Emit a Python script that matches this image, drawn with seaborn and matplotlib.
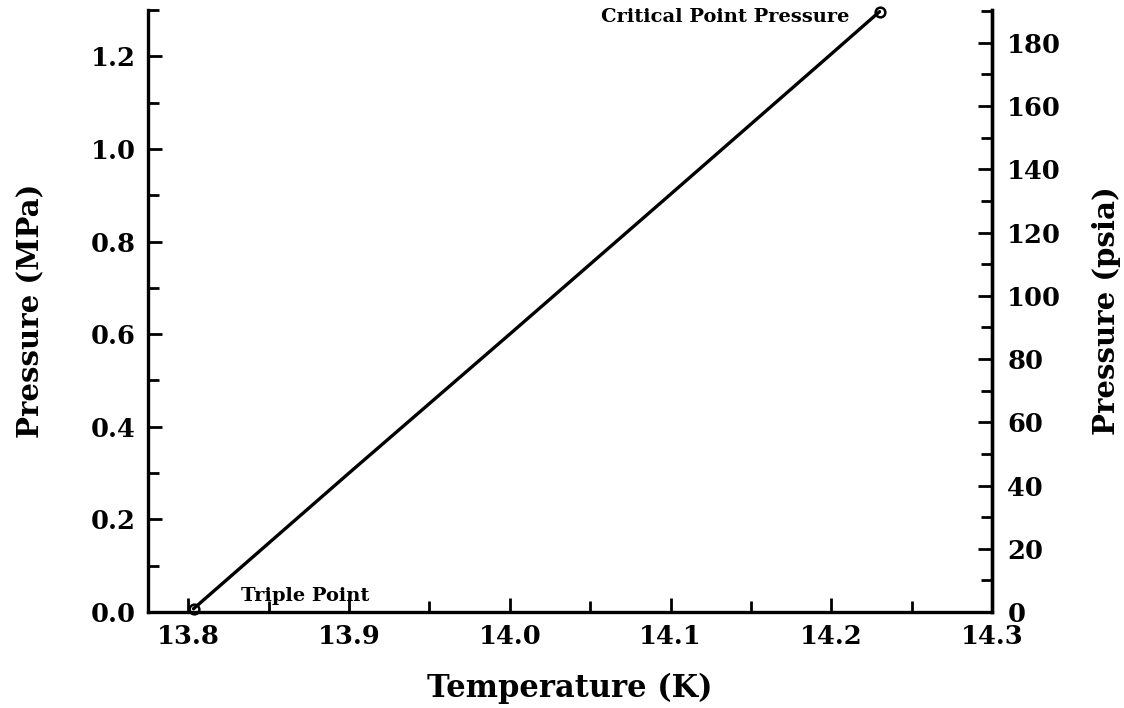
import matplotlib
matplotlib.use("Agg")
import matplotlib.pyplot as plt
from matplotlib.ticker import MultipleLocator
import seaborn as sns
import pandas as pd

# melting line, triple point -> critical point pressure
temperature = [13.8033, 13.9, 14.0, 14.1, 14.2, 14.23]
pressure_mpa = [0.0070, 0.300, 0.600, 0.902, 1.205, 1.2964]
point_labels = ["Triple Point", "Critical Point Pressure"]

if __name__ == "__main__":
    sns.set_style("ticks")
    plt.rcParams["font.family"] = ["DejaVu Serif"]
    plt.rcParams["font.weight"] = "bold"
    plt.rcParams["axes.labelweight"] = "bold"
    plt.rcParams["text.color"] = "black"
    plt.rcParams["axes.labelcolor"] = "black"
    plt.rcParams["xtick.color"] = "black"
    plt.rcParams["ytick.color"] = "black"
    plt.rcParams["axes.edgecolor"] = "black"

    fig = plt.figure(figsize=(11.24, 7.08), dpi=100)
    ax = fig.add_axes([0.1317, 0.1356, 0.7509, 0.8503])
    df = pd.DataFrame({"Temperature": temperature, "Pressure": pressure_mpa})

    sns.lineplot(data=df, x="Temperature", y="Pressure", ax=ax, color="black",
                 linewidth=2.4, marker="o", markevery=[0, len(df) - 1],
                 markersize=7, markerfacecolor="none", markeredgecolor="black",
                 markeredgewidth=1.8, clip_on=False, zorder=5)

    ax.set_xlim(13.775, 14.3)
    ax.set_ylim(0, 1.3)
    ax.xaxis.set_major_locator(MultipleLocator(0.1))
    ax.xaxis.set_minor_locator(MultipleLocator(0.05))
    ax.yaxis.set_major_locator(MultipleLocator(0.2))
    ax.yaxis.set_minor_locator(MultipleLocator(0.1))
    ax.xaxis.set_major_formatter(plt.FormatStrFormatter("%.1f"))
    ax.yaxis.set_major_formatter(plt.FormatStrFormatter("%.1f"))
    ax.set_xlabel("Temperature (K)", fontsize=22)
    ax.set_ylabel("Pressure (MPa)", fontsize=21)
    ax.xaxis.set_label_coords(0.5, -0.101)
    ax.yaxis.set_label_coords(-0.122, 0.5)
    ax.tick_params(axis="both", which="both", direction="in", labelsize=18.5, width=2)
    ax.tick_params(axis="both", which="major", length=10, pad=9)
    ax.tick_params(axis="both", which="minor", length=8)
    ax.spines["top"].set_visible(False)
    for s in ["left", "bottom", "right"]:
        ax.spines[s].set_linewidth(2.4)

    ax2 = ax.twinx()
    ax2.set_ylim(0, 190.4)
    ax2.yaxis.set_major_locator(MultipleLocator(20))
    ax2.yaxis.set_minor_locator(MultipleLocator(10))
    ax2.set_ylabel("Pressure (psia)", fontsize=21)
    ax2.yaxis.set_label_coords(1.1185, 0.5)
    ax2.tick_params(axis="y", which="both", direction="in", labelsize=18.5, width=2)
    ax2.tick_params(axis="y", which="major", length=10, pad=11)
    ax2.tick_params(axis="y", which="minor", length=8)
    ax2.spines["top"].set_visible(False)
    ax2.spines["right"].set_linewidth(2.4)
    ax2.spines["left"].set_visible(False)
    ax2.spines["bottom"].set_visible(False)

    ax.annotate(point_labels[0], xy=(temperature[0], pressure_mpa[0]),
                xytext=(34, 3), textcoords="offset points", fontsize=14,
                fontweight="bold", va="bottom", ha="left")
    ax.annotate(point_labels[1], xy=(temperature[-1], pressure_mpa[-1]),
                xytext=(-22, -4), textcoords="offset points", fontsize=14,
                fontweight="bold", va="center", ha="right")

    plt.savefig("out.png", dpi=100)
